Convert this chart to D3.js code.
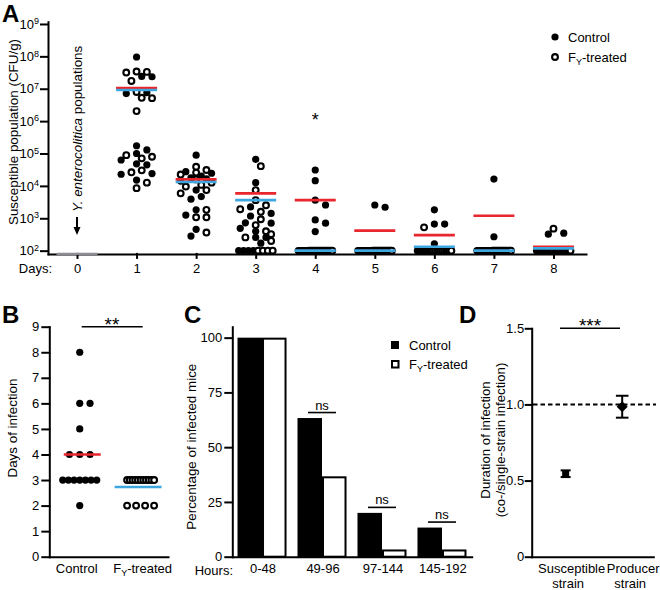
<!DOCTYPE html>
<html><head><meta charset="utf-8">
<script src="https://cdn.jsdelivr.net/npm/d3@7"></script>
<style>
body{margin:0;background:#fff;}
svg{display:block;font-family:"Liberation Sans",Arial,sans-serif;}
</style></head><body>
<svg id="chart" width="660" height="590"></svg>
<script>
// ================= DATA =================
// Panel A: susceptible population, log10(CFU/g), per day 1..8
const daysA = [0, 1, 2, 3, 4, 5, 6, 7, 8];
const controlA = [
  [7.98, 7.38, 7.37, 6.88, 6.85, 5.11, 5.24, 5.0, 4.80, 4.68, 4.65, 4.38, 4.36, 4.18],
  [4.95, 4.44, 4.39, 4.30, 4.25, 4.22, 4.15, 3.87, 3.67, 3.59, 3.26, 3.10, 2.66, 2.45],
  [4.82, 4.10, 3.35, 3.15, 3.07, 2.86, 2.85, 2.69, 2.6, 2.41, 2.41, 2.23, 2, 2, 2, 2],
  [4.49, 4.16, 3.56, 3.41, 2.95, 2.85, 2.59, 2, 2, 2, 2, 2, 2],
  [3.41, 3.34, 2, 2, 2, 2, 2, 2, 2, 2, 2, 2],
  [3.26, 2.82, 2.82, 2.21, 2, 2, 2, 2, 2, 2, 2, 2],
  [4.21, 2.43, 2, 2, 2, 2, 2, 2, 2, 2, 2, 2],
  [2.54, 2.51, 2, 2, 2, 2, 2, 2, 2, 2, 2]
];
const treatedA = [
  [7.52, 7.50, 7.53, 7.24, 6.90, 6.72, 6.71, 6.31, 4.95, 4.85, 4.90, 4.48, 4.42, 4.10, 3.93],
  [4.59, 4.49, 4.41, 4.35, 4.20, 4.10, 4.03, 3.98, 3.87, 3.77, 3.26, 3.03, 3.03, 2.56],
  [4.61, 3.87, 3.56, 3.40, 3.28, 3.20, 2.97, 2.79, 2.6, 2.51, 2.41, 2.30, 2, 2, 2, 2],
  [2, 2, 2, 2, 2, 2, 2, 2, 2, 2, 2, 2, 2, 2],
  [2, 2, 2, 2, 2, 2, 2, 2, 2, 2, 2, 2, 2, 2],
  [2.72, 2, 2, 2, 2, 2, 2, 2, 2, 2, 2, 2, 2],
  [2, 2, 2, 2, 2, 2, 2, 2, 2, 2, 2, 2, 2],
  [2.68, 2, 2, 2, 2, 2, 2, 2, 2, 2, 2, 2, 2]
];
const controlMeanA = [7.02, 4.20, 3.77, 3.56, 2.62, 2.48, 3.08, 2.12];
const treatedMeanA = [6.96, 4.12, 3.56, 2.0, 2.0, 2.12, 2.0, 2.07];
const day0MeanA = 1.9;
const yTickExpA = [2, 3, 4, 5, 6, 7, 8, 9];

// Panel B: days of infection per mouse
const groupsB = ["Control", "treated"];
const controlDaysB = [8, 6, 6, 5, 4, 4, 4, 3, 3, 3, 3, 3, 3, 3, 2];
const treatedDaysB = [3, 3, 3, 3, 3, 3, 3, 3, 3, 3, 3, 2, 2, 2, 2];
const meanDaysB = [4.0, 2.73];
const yTicksB = [0, 1, 2, 3, 4, 5, 6, 7, 8, 9];

// Panel C: percentage of infected mice
const hoursC = ["0-48", "49-96", "97-144", "145-192"];
const controlPctC = [100, 63.3, 20, 13.3];
const treatedPctC = [100, 36.7, 3.3, 3.3];
const sigC = ["", "ns", "ns", "ns"];
const yTicksC = [0, 25, 50, 75, 100];

// Panel D: duration of infection ratio
const strainsD = [["Susceptible", "strain"], ["Producer", "strain"]];
const meanD = [0.545, 0.985];
const semD = [0.022, 0.072];
const yTicksD = [0, 0.5, 1.0, 1.5];

// ================= DRAWING =================
const svg = d3.select("#chart");
const RED = "#e8262d", BLUE = "#3fa7e0", FS = 13, FONT = '"Liberation Sans", Arial, sans-serif';

function styleAxis(g) {
  g.attr("font-size", FS).attr("font-family", FONT);
  g.selectAll("path,line").attr("stroke", "#000").attr("stroke-width", 2).attr("stroke-linecap", "square");
  g.selectAll("text").attr("fill", "#000");
}
function panelLetter(t, x, y) {
  svg.append("text").attr("x", x).attr("y", y).attr("font-size", 24).attr("font-weight", "bold").text(t);
}
function fyText(sel) {
  sel.append("tspan").text("F");
  sel.append("tspan").attr("font-size", 9).attr("dy", 3).text("Y");
  sel.append("tspan").attr("dy", -3).text("-treated");
}
// Prism-like scatter layout
function swarm(points, cx, yf, r, step, rowHalf, maxSteps) {
  const out = points.map(p => ({...p, y: yf(p.v)}));
  const placed = [];
  const byVal = d3.group(out, p => p.v);
  for (const [v, arr] of byVal) {
    const n = arr.length;
    if (n < 2) continue;
    let offs;
    if (n <= 3) offs = [0, step, -step].slice(0, n);
    else { const s = Math.min(step, 2 * rowHalf / (n - 1)); offs = d3.range(n).map(i => (i - (n - 1) / 2) * s); }
    arr.forEach((p, i) => { p.x = cx + offs[i]; placed.push(p); });
  }
  const rest = out.filter(p => p.x === undefined).sort((a, b) => a.y - b.y);
  const hs = step / 2;
  const cands = [0];
  for (let k = 1; k <= maxSteps; k++) cands.push(k * hs, -k * hs);
  for (const p of rest) {
    let best = null;
    for (const o of cands) {
      const x = cx + o;
      if (placed.every(q => Math.hypot(q.x - x, q.y - p.y) >= 2 * r + 0.4)) { best = x; break; }
    }
    if (best === null) {
      let bd = -1;
      for (const o of cands) { const x = cx + o; const d = d3.min(placed, q => Math.hypot(q.x - x, q.y - p.y)); if (d > bd) { bd = d; best = x; } }
    }
    p.x = best; placed.push(p);
  }
  return out;
}
function drawPoints(g, pts) {
  g.selectAll(null).data(pts.filter(p => p.g === 0)).join("circle")
    .attr("cx", p => p.x).attr("cy", p => p.y).attr("r", 3.6).attr("fill", "#000");
  g.selectAll(null).data(pts.filter(p => p.g === 1)).join("circle")
    .attr("cx", p => p.x).attr("cy", p => p.y).attr("r", 2.9).attr("fill", "#fff").attr("stroke", "#000").attr("stroke-width", 2.1);
}

// ---------- Panel A ----------
panelLetter("A", 2, 22);
const xA = d3.scaleLinear().domain([-0.487, 8.546]).range([48, 586]);
const yA = d3.scaleLog().domain([Math.pow(10, 1.9), Math.pow(10, 9.07)]).range([253.9, 21.7]);
const yAv = v => yA(Math.pow(10, v));

const gA = svg.append("g");
for (let d = 1; d <= 8; d++) {
  const pts = controlA[d - 1].map(v => ({v, g: 0})).concat(treatedA[d - 1].map(v => ({v, g: 1})));
  drawPoints(gA, swarm(pts, xA(d), yAv, 3.5, 10.3, 17, 3));
}
const axAy = svg.append("g").attr("transform", "translate(48,0)")
  .call(d3.axisLeft(yA).tickValues(yTickExpA.map(e => Math.pow(10, e))).tickSize(7).tickSizeOuter(0).tickPadding(2).tickFormat(() => "10"));
styleAxis(axAy);
axAy.selectAll(".tick text").append("tspan").attr("dy", "-0.5em").attr("font-size", 9).text(d => Math.round(Math.log10(d)));
const axAx = svg.append("g").attr("transform", "translate(0,253.9)")
  .call(d3.axisBottom(xA).tickValues(daysA).tickSize(4).tickSizeOuter(0).tickPadding(6));
styleAxis(axAx);
svg.append("text").attr("x", 52).attr("y", 273).attr("text-anchor", "end").attr("font-size", FS).text("Days:");

// mean lines
const mw = 20.5;
gA.selectAll(null).data(controlMeanA).join("line")
  .attr("x1", (v, i) => xA(i + 1) - mw).attr("x2", (v, i) => xA(i + 1) + mw)
  .attr("y1", v => yAv(v)).attr("y2", v => yAv(v)).attr("stroke", RED).attr("stroke-width", 2.6);
gA.selectAll(null).data(treatedMeanA).join("line")
  .attr("x1", (v, i) => xA(i + 1) - mw).attr("x2", (v, i) => xA(i + 1) + mw)
  .attr("y1", v => yAv(v)).attr("y2", v => yAv(v)).attr("stroke", BLUE).attr("stroke-width", 2.6);
svg.append("line").attr("x1", xA(0) - mw).attr("x2", xA(0) + mw).attr("y1", yAv(day0MeanA)).attr("y2", yAv(day0MeanA))
  .attr("stroke", "#8c8c96").attr("stroke-width", 2.4);

// y label
svg.append("text").attr("transform", `translate(${13 + 4.5},132) rotate(-90)`).attr("text-anchor", "middle")
  .attr("font-size", 13.4).text("Susceptible population (CFU/g)");
// arrow annotation
const ax0 = xA(0);
const tY = svg.append("text").attr("transform", `translate(${ax0 + 4.5},212) rotate(-90)`).attr("font-size", 13.4);
tY.append("tspan").attr("font-style", "italic").text("Y. enterocolitica");
tY.append("tspan").text(" populations");
svg.append("line").attr("x1", ax0).attr("x2", ax0).attr("y1", 217).attr("y2", 229).attr("stroke", "#000").attr("stroke-width", 2);
svg.append("path").attr("d", `M${ax0 - 3.5},227 L${ax0 + 3.5},227 L${ax0},235 Z`).attr("fill", "#000");
// asterisk day 4
svg.append("text").attr("x", xA(4)).attr("y", 126).attr("text-anchor", "middle").attr("font-size", 18).text("*");
// legend
svg.append("circle").attr("cx", 555).attr("cy", 37).attr("r", 3.6).attr("fill", "#000");
svg.append("circle").attr("cx", 555).attr("cy", 57).attr("r", 2.9).attr("fill", "#fff").attr("stroke", "#000").attr("stroke-width", 2.1);
svg.append("text").attr("x", 568).attr("y", 41.5).attr("font-size", FS).text("Control");
fyText(svg.append("text").attr("x", 568).attr("y", 61.5).attr("font-size", FS));

// ---------- Panel B ----------
panelLetter("B", 2, 323);
const yB = d3.scaleLinear().domain([0, 9]).range([556.7, 326.7]);
const xB = d3.scaleLinear().domain([-0.5, 1.45]).range([49.3, 168]);
const gB = svg.append("g");
const ptsBc = swarm(controlDaysB.map(v => ({v, g: 0})), xB(0), yB, 3.5, 10.3, 17, 3);
const ptsBt = swarm(treatedDaysB.map(v => ({v, g: 1})), xB(1), yB, 3.5, 10.3, 13.5, 3);
drawPoints(gB, ptsBc.concat(ptsBt));
const meanOffB = [2.5, -2.5], meanHalfB = [18.5, 23.5];
gB.selectAll(null).data(meanDaysB).join("line")
  .attr("x1", (v, i) => xB(i) + meanOffB[i] - meanHalfB[i]).attr("x2", (v, i) => xB(i) + meanOffB[i] + meanHalfB[i])
  .attr("y1", v => yB(v)).attr("y2", v => yB(v)).attr("stroke", (v, i) => i === 0 ? RED : BLUE).attr("stroke-width", 2.6);
const axBy = svg.append("g").attr("transform", "translate(49.3,0)")
  .call(d3.axisLeft(yB).tickValues(yTicksB).tickSize(7).tickSizeOuter(0).tickPadding(3));
styleAxis(axBy);
const axBx = svg.append("g").attr("transform", `translate(0,${yB(0)})`)
  .call(d3.axisBottom(xB).tickValues([]).tickSizeOuter(0));
styleAxis(axBx);
svg.append("text").attr("x", xB(0) - 3).attr("y", 573).attr("text-anchor", "middle").attr("font-size", FS).text(groupsB[0]);
fyText(svg.append("text").attr("x", xB(1) + 2).attr("y", 573).attr("text-anchor", "middle").attr("font-size", FS));
svg.append("text").attr("transform", `translate(${12 + 4.5},428) rotate(-90)`).attr("text-anchor", "middle").attr("font-size", 13.4).text("Days of infection");
svg.append("line").attr("x1", 81.7).attr("x2", 142.7).attr("y1", yB(9)).attr("y2", yB(9)).attr("stroke", "#000").attr("stroke-width", 1.6);
svg.append("text").attr("x", 112).attr("y", 331).attr("text-anchor", "middle").attr("font-size", 19).text("**");

// ---------- Panel C ----------
panelLetter("C", 184, 323);
const yC = d3.scaleLinear().domain([0, 105]).range([556.7, 326.7]);
const xC = d3.scaleBand().domain(hoursC).range([232.3, 471.7]).paddingInner(0.183).paddingOuter(0.087);
const xCin = d3.scaleBand().domain([0, 1]).range([0, xC.bandwidth()]);
const gC = svg.append("g");
hoursC.forEach((h, i) => {
  [controlPctC[i], treatedPctC[i]].forEach((v, j) => {
    gC.append("rect").attr("x", xC(h) + xCin(j) + 1).attr("width", xCin.bandwidth() - 2)
      .attr("y", yC(v) + 1).attr("height", yC(0) - yC(v) - 1)
      .attr("fill", j === 0 ? "#000" : "#fff").attr("stroke", "#000").attr("stroke-width", 2);
  });
  if (sigC[i]) {
    const top = yC(Math.max(controlPctC[i], treatedPctC[i])) - 5.5;
    const cx = xC(h) + xC.bandwidth() / 2;
    gC.append("line").attr("x1", cx - 14).attr("x2", cx + 14).attr("y1", top).attr("y2", top).attr("stroke", "#000").attr("stroke-width", 1.6);
    gC.append("text").attr("x", cx).attr("y", top - 3).attr("text-anchor", "middle").attr("font-size", FS).text(sigC[i]);
  }
  gC.append("text").attr("x", xC(h) + xC.bandwidth() / 2 + 1).attr("y", 573).attr("text-anchor", "middle").attr("font-size", FS).text(h);
});
const axCy = svg.append("g").attr("transform", "translate(232.3,0)")
  .call(d3.axisLeft(yC).tickValues(yTicksC).tickSize(7).tickSizeOuter(0).tickPadding(3));
styleAxis(axCy);
const axCx = svg.append("g").attr("transform", `translate(0,${yC(0)})`)
  .call(d3.axisBottom(xC).tickValues([]).tickSizeOuter(0));
styleAxis(axCx);
svg.append("text").attr("x", 233).attr("y", 575).attr("text-anchor", "end").attr("font-size", FS).text("Hours:");
svg.append("text").attr("transform", `translate(${191.7 + 4.5},446.7) rotate(-90)`).attr("text-anchor", "middle").attr("font-size", 13.4).text("Percentage of infected mice");
svg.append("rect").attr("x", 391).attr("y", 341).attr("width", 8).attr("height", 8).attr("fill", "#000");
svg.append("rect").attr("x", 392).attr("y", 361).attr("width", 6.5).attr("height", 6.5).attr("fill", "#fff").attr("stroke", "#000").attr("stroke-width", 2);
svg.append("text").attr("x", 409).attr("y", 349.5).attr("font-size", FS).text("Control");
fyText(svg.append("text").attr("x", 409).attr("y", 369).attr("font-size", FS));

// ---------- Panel D ----------
panelLetter("D", 459, 323);
const yD = d3.scaleLinear().domain([0, 1.5]).range([556.7, 328.3]);
const xD = d3.scaleLinear().domain([-0.6, 1.55]).range([531.7, 653.3]);
const labelOffD = [[6, 2.5], [11, 8]];
const gD = svg.append("g");
gD.append("line").attr("x1", 533).attr("x2", 656).attr("y1", yD(1)).attr("y2", yD(1))
  .attr("stroke", "#000").attr("stroke-width", 2).attr("stroke-dasharray", "4.5,3");
meanD.forEach((m, i) => {
  const cx = xD(i);
  const cw = i === 0 ? 5 : 6.3;
  const y1 = yD(m + semD[i]), y2 = yD(m - semD[i]);
  gD.append("line").attr("x1", cx).attr("x2", cx).attr("y1", y1).attr("y2", y2).attr("stroke", "#000").attr("stroke-width", 2);
  gD.append("line").attr("x1", cx - cw).attr("x2", cx + cw).attr("y1", y1).attr("y2", y1).attr("stroke", "#000").attr("stroke-width", 2);
  gD.append("line").attr("x1", cx - cw).attr("x2", cx + cw).attr("y1", y2).attr("y2", y2).attr("stroke", "#000").attr("stroke-width", 2);
  if (i === 0) gD.append("rect").attr("x", cx - 3.5).attr("y", yD(m) - 3.5).attr("width", 7).attr("height", 7).attr("fill", "#000");
  else gD.append("path").attr("d", `M${cx},${yD(m) - 5.5} L${cx + 5.5},${yD(m)} L${cx},${yD(m) + 5.5} L${cx - 5.5},${yD(m)} Z`).attr("fill", "#000");
  strainsD[i].forEach((t, k) => {
    gD.append("text").attr("x", cx + labelOffD[i][k]).attr("y", 573 + k * 15).attr("text-anchor", "middle").attr("font-size", FS).text(t);
  });
});
const axDy = svg.append("g").attr("transform", "translate(531.7,0)")
  .call(d3.axisLeft(yD).tickValues(yTicksD).tickSize(6).tickSizeOuter(0).tickPadding(1.5).tickFormat(d => d === 0 ? "0" : d3.format(".1f")(d)));
styleAxis(axDy);
const axDx = svg.append("g").attr("transform", `translate(0,${yD(0)})`)
  .call(d3.axisBottom(xD).tickValues([]).tickSizeOuter(0));
styleAxis(axDx);
const tD = svg.append("text").attr("transform", `translate(${485.5 + 4.5},440) rotate(-90)`).attr("text-anchor", "middle").attr("font-size", 13.2);
tD.append("tspan").attr("x", 0).attr("dy", 0).text("Duration of infection");
tD.append("tspan").attr("x", 0).attr("dy", 14.5).text("(co-/single-strain infection)");
svg.append("line").attr("x1", 560).attr("x2", 620).attr("y1", yD(1.5)).attr("y2", yD(1.5)).attr("stroke", "#000").attr("stroke-width", 1.6);
svg.append("text").attr("x", 590).attr("y", 332).attr("text-anchor", "middle").attr("font-size", 19).text("***");
</script></body></html>
